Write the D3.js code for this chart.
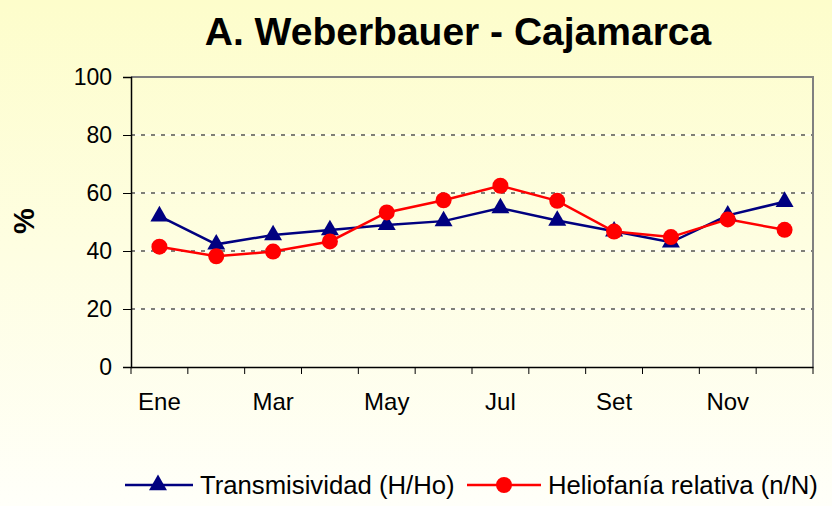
<!DOCTYPE html>
<html>
<head>
<meta charset="utf-8">
<script src="https://cdn.jsdelivr.net/npm/d3@7"></script>
<style>
body { margin: 0; padding: 0; overflow: hidden; }
#chart { width: 832px; height: 506px; }
</style>
</head>
<body>
<div id="chart"></div>
<script>
var months = ["Ene", "Feb", "Mar", "Abr", "May", "Jun", "Jul", "Ago", "Set", "Oct", "Nov", "Dic"];
var transmisividad = [52, 42.3, 45.5, 47.2, 49, 50.3, 54.8, 50.5, 46.8, 43, 52.3, 57];
var heliofania = [41.5, 38.2, 39.8, 43.3, 53.3, 57.5, 62.5, 57.3, 46.7, 44.8, 50.9, 47.3];
var yTicks = [0, 20, 40, 60, 80, 100];

var width = 832, height = 506;
var plotLeft = 131, plotRight = 813, plotTop = 77, plotBottom = 367;
var font = "Arial, 'Liberation Sans', sans-serif";

var svg = d3.select("#chart").append("svg")
	.attr("width", width)
	.attr("height", height);

var grad = svg.append("defs").append("linearGradient")
	.attr("id", "bg")
	.attr("x1", 0).attr("y1", 0).attr("x2", 0).attr("y2", 1);
grad.append("stop").attr("offset", "0%").attr("stop-color", "#fdfdcb");
grad.append("stop").attr("offset", "100%").attr("stop-color", "#fffff9");

svg.append("rect")
	.attr("width", width).attr("height", height)
	.attr("fill", "url(#bg)");

var x = d3.scaleBand().domain(months).range([plotLeft, plotRight]);
var y = d3.scaleLinear().domain([0, 100]).range([plotBottom, plotTop]);

// gridlines
var grid = svg.append("g");
yTicks.filter(function (t) { return t > 0 && t < 100; }).forEach(function (t) {
	grid.append("line")
		.attr("x1", plotLeft).attr("x2", plotRight)
		.attr("y1", y(t)).attr("y2", y(t))
		.attr("stroke", "#ffffff").attr("stroke-width", 1.2);
	grid.append("line")
		.attr("x1", plotLeft).attr("x2", plotRight)
		.attr("y1", y(t)).attr("y2", y(t))
		.attr("stroke", "#000000").attr("stroke-width", 1.2)
		.attr("stroke-dasharray", "4,6");
});

// plot border (top and right)
svg.append("path")
	.attr("d", "M" + plotLeft + "," + plotTop + "H" + plotRight + "V" + plotBottom)
	.attr("fill", "none")
	.attr("stroke", "#808080")
	.attr("stroke-width", 2);

// y axis
var yAxis = svg.append("g")
	.attr("transform", "translate(" + plotLeft + ",0)")
	.call(d3.axisLeft(y).tickValues(yTicks).tickSize(8).tickPadding(11));
yAxis.select(".domain").attr("stroke", "#000").attr("stroke-width", 1.5);
yAxis.selectAll(".tick line").attr("stroke", "#000");
yAxis.selectAll("text")
	.attr("font-family", font)
	.attr("font-size", "23px")
	.attr("fill", "#000");

// x axis
var xAxis = svg.append("g")
	.attr("transform", "translate(0," + plotBottom + ")")
	.call(d3.axisBottom(x).tickSize(0).tickSizeOuter(0).tickPadding(26)
		.tickFormat(function (d, i) { return i % 2 === 0 ? d : ""; }));
xAxis.select(".domain").attr("stroke", "#000").attr("stroke-width", 1.5);
xAxis.selectAll("text")
	.attr("font-family", font)
	.attr("font-size", "24px")
	.attr("fill", "#000");
// tick marks between categories
var bounds = months.map(function (m) { return x(m); }).concat([plotRight]);
xAxis.selectAll(".sep")
	.data(bounds)
	.enter()
	.append("line")
	.attr("class", "sep")
	.attr("x1", function (d) { return d; })
	.attr("x2", function (d) { return d; })
	.attr("y1", 0).attr("y2", 7)
	.attr("stroke", "#000");

function cx(d, i) { return x(months[i]) + x.bandwidth() / 2; }

var line = d3.line()
	.x(function (d, i) { return cx(d, i); })
	.y(function (d) { return y(d); });

// series
svg.append("path")
	.datum(transmisividad)
	.attr("d", line)
	.attr("fill", "none")
	.attr("stroke", "#000080")
	.attr("stroke-width", 2.5);

svg.append("path")
	.datum(heliofania)
	.attr("d", line)
	.attr("fill", "none")
	.attr("stroke", "#ff0000")
	.attr("stroke-width", 2.5);

var tri = d3.symbol().type(d3.symbolTriangle).size(140);

svg.selectAll(".tri")
	.data(transmisividad)
	.enter()
	.append("path")
	.attr("class", "tri")
	.attr("d", tri)
	.attr("transform", function (d, i) { return "translate(" + cx(d, i) + "," + y(d) + ")"; })
	.attr("fill", "#000080");

svg.selectAll(".dot")
	.data(heliofania)
	.enter()
	.append("circle")
	.attr("class", "dot")
	.attr("cx", function (d, i) { return cx(d, i); })
	.attr("cy", function (d) { return y(d); })
	.attr("r", 8)
	.attr("fill", "#ff0000");

// title
svg.append("text")
	.attr("x", 458).attr("y", 45)
	.attr("text-anchor", "middle")
	.attr("font-family", font)
	.attr("font-weight", "bold")
	.attr("font-size", "39px")
	.attr("fill", "#000")
	.text("A. Weberbauer - Cajamarca");

// y label
svg.append("text")
	.attr("transform", "translate(34,221) rotate(-90)")
	.attr("text-anchor", "middle")
	.attr("font-family", font)
	.attr("font-weight", "bold")
	.attr("font-size", "29px")
	.attr("fill", "#000")
	.text("%");

// legend
var legend = svg.append("g");
legend.append("line")
	.attr("x1", 125).attr("x2", 193).attr("y1", 485).attr("y2", 485)
	.attr("stroke", "#000080").attr("stroke-width", 2.5);
legend.append("path")
	.attr("d", tri)
	.attr("transform", "translate(158,485)")
	.attr("fill", "#000080");
legend.append("text")
	.attr("x", 200).attr("y", 494)
	.attr("font-family", font)
	.attr("font-size", "25.7px")
	.attr("fill", "#000")
	.text("Transmisividad (H/Ho)");
legend.append("line")
	.attr("x1", 467).attr("x2", 541).attr("y1", 485).attr("y2", 485)
	.attr("stroke", "#ff0000").attr("stroke-width", 2.5);
legend.append("circle")
	.attr("cx", 504).attr("cy", 485).attr("r", 8)
	.attr("fill", "#ff0000");
legend.append("text")
	.attr("x", 548).attr("y", 494)
	.attr("font-family", font)
	.attr("font-size", "25.7px")
	.attr("fill", "#000")
	.text("Heliofanía relativa (n/N)");
</script>
</body>
</html>
